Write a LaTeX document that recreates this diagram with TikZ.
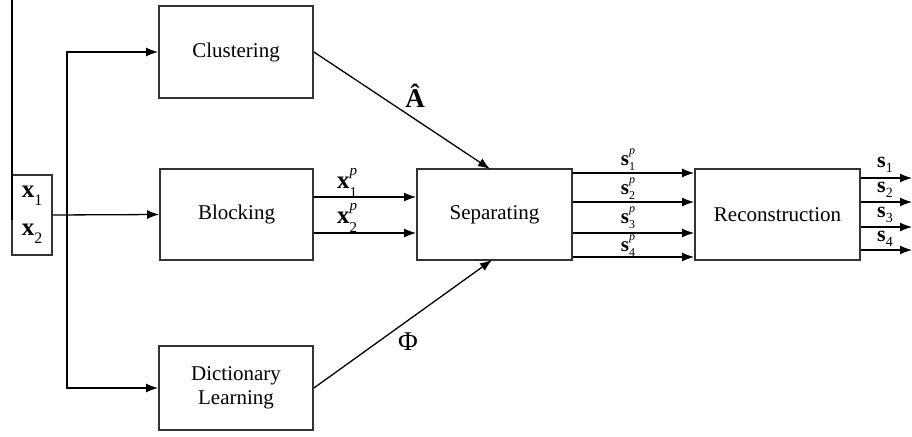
\documentclass[tikz,border=0pt]{standalone}
\usepackage{fontspec}
\setmainfont{Liberation Serif}
\usetikzlibrary{arrows.meta}
\newcommand{\bsub}[5]{\textbf{#1}\makebox[0pt][l]{\raisebox{-#4em}{\fontsize{#5}{#5}\selectfont #2}}\raisebox{0.5em}{\fontsize{#5}{#5}\selectfont\itshape #3}}
\begin{document}
\begin{tikzpicture}[x=1pt,y=-1pt,
  blk/.style={draw=black!80,line width=1.8pt,minimum width=#1,inner sep=0pt,align=center,font=\fontsize{21}{24}\selectfont},
  con/.style={line width=1.3pt},
  arr/.style={con,-{Latex[length=12pt,width=9pt]}},
  lab/.style={inner sep=0pt,font=\fontsize{25}{26}\selectfont}]
\useasboundingbox (0,0) rectangle (912,436);
\node[blk=154pt,minimum height=92pt] (clu) at (236,52) {Clustering};
\node[blk=153pt,minimum height=91pt] (bl) at (236.5,214.5) {Blocking};
\node[blk=154pt,minimum height=84pt] (dic) at (236,388) {Dictionary\\Learning};
\node[blk=155pt,minimum height=91pt] (sep) at (494.5,214.5) {Separating};
\node[blk=165pt,minimum height=91pt] (rec) at (777.5,214.5) {Reconstruction};
\node[blk=40pt,minimum height=80pt,line width=1.4pt] (xb) at (32,215) {};
\node[lab] (xl1) at (32,196) {\textbf{x}\raisebox{-0.3em}{\fontsize{16}{16}\selectfont 1}};
\node[lab] (xl2) at (32,234) {\textbf{x}\raisebox{-0.3em}{\fontsize{16}{16}\selectfont 2}};
% left line
\coordinate (lt) at (12,0);
\coordinate (lb) at (12,220);
\draw[con] (lt) -- (lb);
% input distribution
\coordinate (br) at (67,215);
\draw[arr] (xb.east) -- (bl.west);
\draw[arr] (br) |- (clu.west);
\draw[arr] (br) |- (dic.west);
% A and Phi
\coordinate (sepn) at (490,169);
\coordinate (seps) at (492,260);
\draw[arr] (clu.east) -- (sepn);
\draw[arr] (dic.east) -- (seps);
\node[lab,font=\fontsize{27}{28}\selectfont] (ahat) at (415,96) {\textbf{Â}};
\node[lab,font=\fontsize{27}{28}\selectfont] (phi) at (408,342) {Φ};
% blocking outputs
\draw[arr] (bl.east |- 0,197) -- (sep.west |- 0,197);
\draw[arr] (bl.east |- 0,233) -- (sep.west |- 0,233);
\node[lab] (xp1) at (347,183) {\bsub{x}{1}{p}{0.35}{15}};
\node[lab] (xp2) at (347,218) {\bsub{x}{2}{p}{0.35}{15}};
% separating outputs
\foreach \yy/\ly/\i in {173/160/1,202/189/2,233/218/3,257/246/4}{
  \draw[arr] (sep.east |- 0,\yy) -- (rec.west |- 0,\yy);
  \node[lab,font=\fontsize{21}{22}\selectfont] (sp\i) at (628,\ly) {\bsub{s}{\i}{p}{0.25}{12}};
}
% reconstruction outputs
\foreach \yy/\ly/\i in {178/165/1,202/190/2,227/215/3,250/239/4}{
  \coordinate (o\i) at (912,\yy);
  \draw[arr] (rec.east |- 0,\yy) -- (o\i);
  \node[lab,font=\fontsize{22}{22}\selectfont] (s\i) at (885,\ly) {\textbf{s}\raisebox{-0.2em}{\fontsize{14}{14}\selectfont \i}};
}
\end{tikzpicture}
\end{document}
